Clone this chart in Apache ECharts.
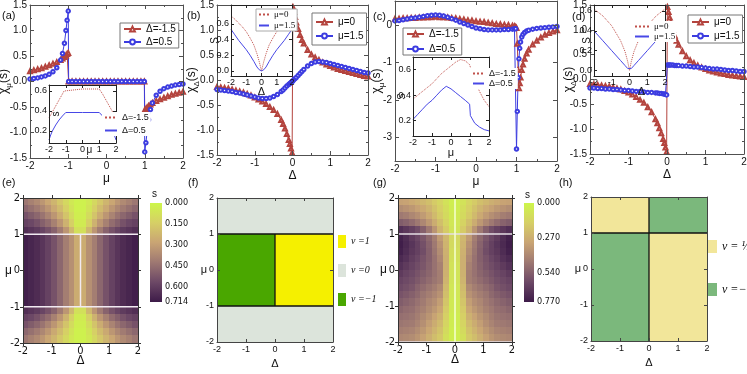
<!DOCTYPE html>
<html><head><meta charset="utf-8">
<script src="https://cdn.jsdelivr.net/npm/echarts@6/dist/echarts.min.js"></script>
<style>html,body{margin:0;padding:0;background:#fff}#c{width:747px;height:374px}</style>
</head><body><div id="c"></div><script>
// ---------------- DATA ----------------
// (a) chi_mu vs mu
const aMu = [-2,-1.9,-1.8,-1.7,-1.6,-1.5,-1.4,-1.3,-1.2,-1.15,-1.1,-1.06,-1.03,-1,
 -0.99,-0.9,-0.8,-0.7,-0.6,-0.5,-0.4,-0.3,-0.2,-0.1,0,0.1,0.2,0.3,0.4,0.5,0.6,0.7,0.8,0.9,0.99,
 1,1.03,1.06,1.1,1.15,1.2,1.3,1.4,1.5,1.6,1.7,1.8,1.9,2];
const aRed = [0.2,0.22,0.24,0.26,0.29,0.32,0.35,0.38,0.42,0.45,0.48,0.51,0.54,0.56,
 0,0,0,0,0,0,0,0,0,0,0,0,0,0,0,0,0,0,0,0,0,
 -0.56,-0.54,-0.51,-0.48,-0.45,-0.42,-0.38,-0.35,-0.32,-0.29,-0.26,-0.24,-0.22,-0.2];
const aBlue = [0.05,0.06,0.07,0.09,0.11,0.14,0.19,0.27,0.42,0.55,0.75,1.0,1.2,1.38,
 0,0,0,0,0,0,0,0,0,0,0,0,0,0,0,0,0,0,0,0,0,
 -1.38,-1.2,-1.0,-0.75,-0.55,-0.42,-0.27,-0.19,-0.14,-0.11,-0.09,-0.07,-0.06,-0.05];
// (a) inset S vs mu
const iaMu = [-2,-1.9,-1.8,-1.7,-1.6,-1.5,-1.4,-1.3,-1.2,-1.1,-1,0,1,1.1,1.2,1.3,1.4,1.5,1.6,1.7,1.8,1.9,2];
const iaRed = [0.33,0.36,0.39,0.42,0.45,0.48,0.51,0.54,0.57,0.6,0.62,0.62,0.62,0.6,0.57,0.54,0.51,0.48,0.45,0.42,0.39,0.36,0.33];
const iaBlue = [0.11,0.16,0.2,0.23,0.26,0.28,0.31,0.33,0.35,0.37,0.385,0.385,0.385,0.37,0.35,0.33,0.31,0.28,0.26,0.23,0.2,0.16,0.11];
// (b) chi_Delta vs Delta
const bDelta = [-2,-1.9,-1.8,-1.7,-1.6,-1.5,-1.4,-1.3,-1.2,-1.1,-1,-0.9,-0.8,-0.7,-0.6,-0.5,-0.4,-0.3,-0.25,-0.2,-0.15,-0.1,-0.07,-0.04,-0.01,
 0.01,0.04,0.07,0.1,0.15,0.2,0.25,0.3,0.4,0.5,0.6,0.7,0.8,0.9,1,1.1,1.2,1.3,1.4,1.5,1.6,1.7,1.8,1.9,2];
const bRed = [-0.14,-0.15,-0.16,-0.17,-0.19,-0.21,-0.23,-0.25,-0.28,-0.31,-0.35,-0.39,-0.43,-0.48,-0.54,-0.6,-0.68,-0.8,-0.88,-0.97,-1.08,-1.2,-1.28,-1.37,-1.46,
 1.46,1.36,1.26,1.15,1.02,0.9,0.8,0.73,0.6,0.51,0.45,0.4,0.35,0.31,0.28,0.25,0.22,0.2,0.18,0.16,0.14,0.12,0.1,0.08,0.07];
const bBlue = [-0.19,-0.2,-0.21,-0.22,-0.23,-0.25,-0.26,-0.28,-0.3,-0.32,-0.34,-0.36,-0.37,-0.37,-0.36,-0.33,-0.29,-0.23,-0.2,-0.16,-0.12,-0.09,-0.07,-0.05,-0.03,
 -0.02,0.01,0.03,0.05,0.09,0.13,0.17,0.21,0.28,0.33,0.36,0.37,0.36,0.35,0.33,0.31,0.29,0.27,0.25,0.23,0.21,0.19,0.17,0.15,0.14];
// (b) inset S vs Delta
const ibDelta = [-2,-1.75,-1.5,-1.25,-1,-0.75,-0.5,-0.3,-0.15,0,0.15,0.3,0.5,0.75,1,1.25,1.5,1.75,2];
const ibRed = [0.7,0.66,0.61,0.56,0.5,0.42,0.33,0.22,0.12,0,0.12,0.22,0.33,0.42,0.5,0.56,0.61,0.66,0.7];
const ibBlue = [0.53,0.46,0.39,0.33,0.27,0.2,0.12,0.05,0.015,0,0.015,0.05,0.12,0.2,0.27,0.33,0.39,0.46,0.53];
// (c) chi_mu vs mu
const cMu = [-2,-1.9,-1.8,-1.7,-1.6,-1.5,-1.4,-1.3,-1.2,-1.1,-1,-0.9,-0.8,-0.7,-0.6,-0.5,-0.4,-0.3,-0.2,-0.1,0,0.1,0.2,0.3,0.4,0.5,0.6,0.7,0.8,0.9,
 0.95,0.98,1,1.02,1.04,1.06,1.08,1.1,1.13,1.16,1.2,1.25,1.3,1.4,1.5,1.6,1.7,1.8,1.9,2];
const cRed = [0.17,0.17,0.18,0.18,0.19,0.19,0.2,0.2,0.21,0.21,0.22,0.21,0.21,0.2,0.19,0.18,0.16,0.15,0.13,0.12,0.1,0.09,0.08,0.06,0.05,0.03,0.02,0.01,0,-0.02,
 -0.03,-0.05,-0.08,-0.5,-1.2,-1.68,-1.55,-1.4,-1.2,-1.05,-0.9,-0.76,-0.66,-0.52,-0.42,-0.33,-0.26,-0.21,-0.17,-0.14];
const cBlue = [0.11,0.12,0.14,0.16,0.18,0.19,0.21,0.23,0.25,0.26,0.27,0.26,0.24,0.21,0.17,0.13,0.08,0.04,0,-0.04,-0.08,-0.1,-0.12,-0.13,-0.13,-0.13,-0.13,-0.12,-0.12,-0.11,
 -0.1,-0.1,-3.3,-2.3,-1.4,-0.9,-0.62,-0.45,-0.32,-0.25,-0.2,-0.16,-0.14,-0.11,-0.09,-0.08,-0.07,-0.06,-0.05,-0.04];
// (c) inset S vs mu
const icMu = [-2,-1.75,-1.5,-1.25,-1,-0.75,-0.5,-0.25,0,0.25,0.5,0.75,0.98,1.02,1.25,1.5,1.75,2];
const icRed = [0.37,0.4,0.43,0.46,0.49,0.53,0.57,0.6,0.63,0.66,0.68,0.67,0.64,0.62,0.52,0.43,0.36,0.31];
const icBlue = [0.21,0.25,0.29,0.33,0.36,0.4,0.44,0.47,0.45,0.42,0.39,0.36,0.33,0.24,0.18,0.15,0.13,0.12];
// (d) chi_Delta vs Delta
const dDelta = [-2,-1.9,-1.8,-1.7,-1.6,-1.5,-1.4,-1.3,-1.2,-1.1,-1,-0.9,-0.8,-0.7,-0.6,-0.5,-0.4,-0.3,-0.25,-0.2,-0.15,-0.1,-0.07,-0.04,-0.01,
 0.01,0.04,0.07,0.1,0.15,0.2,0.25,0.3,0.4,0.5,0.6,0.7,0.8,0.9,1,1.1,1.2,1.3,1.4,1.5,1.6,1.7,1.8,1.9,2];
const dRed = [-0.09,-0.1,-0.11,-0.12,-0.13,-0.14,-0.16,-0.18,-0.2,-0.23,-0.26,-0.3,-0.35,-0.41,-0.47,-0.56,-0.66,-0.8,-0.88,-0.98,-1.08,-1.2,-1.28,-1.37,-1.46,
 1.46,1.36,1.25,1.15,1.0,0.88,0.78,0.7,0.57,0.47,0.39,0.33,0.28,0.24,0.21,0.18,0.16,0.14,0.12,0.11,0.09,0.08,0.07,0.06,0.05];
const dBlue = [-0.17,-0.17,-0.18,-0.18,-0.19,-0.19,-0.2,-0.2,-0.21,-0.22,-0.22,-0.23,-0.24,-0.24,-0.25,-0.26,-0.26,-0.27,-0.27,-0.28,-0.28,-0.29,-0.29,-0.3,-0.31,
 0.29,0.29,0.29,0.29,0.29,0.28,0.28,0.28,0.27,0.27,0.26,0.25,0.25,0.24,0.23,0.22,0.21,0.21,0.2,0.19,0.18,0.18,0.17,0.16,0.16];
// (d) inset S vs Delta
const idDelta = [-2,-1.5,-1,-0.5,-0.25,-0.1,0,0.1,0.25,0.5,1,1.5,2];
const idRed = [0.62,0.55,0.45,0.3,0.19,0.09,0,0.09,0.19,0.3,0.45,0.55,0.62];
const idBlue = [0.4,0.3,0.2,0.1,0.05,0.02,0,0.02,0.05,0.1,0.2,0.3,0.4];
// heat maps: cell centres
const hmDelta = [-1.9,-1.7,-1.5,-1.3,-1.1,-0.9,-0.7,-0.5,-0.3,-0.1,0.1,0.3,0.5,0.7,0.9,1.1,1.3,1.5,1.7,1.9];
const hmMu = [1.9,1.7,1.5,1.3,1.1,0.9,0.7,0.5,0.3,0.1,-0.1,-0.3,-0.5,-0.7,-0.9,-1.1,-1.3,-1.5,-1.7,-1.9];
// (e) S(Delta, mu), rows top (mu=1.9) to bottom (mu=-1.9)
const eRows = [
 [0.43,0.40,0.37,0.33,0.28,0.23,0.17,0.11,0.05,0.02,0.02,0.05,0.11,0.17,0.23,0.28,0.33,0.37,0.40,0.43],
 [0.48,0.45,0.42,0.38,0.33,0.27,0.21,0.14,0.07,0.02,0.02,0.07,0.14,0.21,0.27,0.33,0.38,0.42,0.45,0.48],
 [0.54,0.51,0.48,0.44,0.39,0.33,0.26,0.18,0.10,0.03,0.03,0.10,0.18,0.26,0.33,0.39,0.44,0.48,0.51,0.54],
 [0.59,0.57,0.54,0.50,0.46,0.40,0.33,0.24,0.14,0.04,0.04,0.14,0.24,0.33,0.40,0.46,0.50,0.54,0.57,0.59],
 [0.65,0.63,0.61,0.58,0.54,0.49,0.42,0.33,0.22,0.08,0.08,0.22,0.33,0.42,0.49,0.54,0.58,0.61,0.63,0.65],
 [0.70,0.68,0.66,0.63,0.59,0.54,0.48,0.41,0.35,0.26,0.26,0.35,0.41,0.48,0.54,0.59,0.63,0.66,0.68,0.70],
 [0.70,0.68,0.66,0.63,0.59,0.54,0.48,0.41,0.35,0.26,0.26,0.35,0.41,0.48,0.54,0.59,0.63,0.66,0.68,0.70],
 [0.70,0.68,0.66,0.63,0.59,0.54,0.48,0.41,0.35,0.26,0.26,0.35,0.41,0.48,0.54,0.59,0.63,0.66,0.68,0.70],
 [0.70,0.68,0.66,0.63,0.59,0.54,0.48,0.41,0.35,0.26,0.26,0.35,0.41,0.48,0.54,0.59,0.63,0.66,0.68,0.70],
 [0.70,0.68,0.66,0.63,0.59,0.54,0.48,0.41,0.35,0.26,0.26,0.35,0.41,0.48,0.54,0.59,0.63,0.66,0.68,0.70],
 [0.70,0.68,0.66,0.63,0.59,0.54,0.48,0.41,0.35,0.26,0.26,0.35,0.41,0.48,0.54,0.59,0.63,0.66,0.68,0.70],
 [0.70,0.68,0.66,0.63,0.59,0.54,0.48,0.41,0.35,0.26,0.26,0.35,0.41,0.48,0.54,0.59,0.63,0.66,0.68,0.70],
 [0.70,0.68,0.66,0.63,0.59,0.54,0.48,0.41,0.35,0.26,0.26,0.35,0.41,0.48,0.54,0.59,0.63,0.66,0.68,0.70],
 [0.70,0.68,0.66,0.63,0.59,0.54,0.48,0.41,0.35,0.26,0.26,0.35,0.41,0.48,0.54,0.59,0.63,0.66,0.68,0.70],
 [0.70,0.68,0.66,0.63,0.59,0.54,0.48,0.41,0.35,0.26,0.26,0.35,0.41,0.48,0.54,0.59,0.63,0.66,0.68,0.70],
 [0.65,0.63,0.61,0.58,0.54,0.49,0.42,0.33,0.22,0.08,0.08,0.22,0.33,0.42,0.49,0.54,0.58,0.61,0.63,0.65],
 [0.59,0.57,0.54,0.50,0.46,0.40,0.33,0.24,0.14,0.04,0.04,0.14,0.24,0.33,0.40,0.46,0.50,0.54,0.57,0.59],
 [0.54,0.51,0.48,0.44,0.39,0.33,0.26,0.18,0.10,0.03,0.03,0.10,0.18,0.26,0.33,0.39,0.44,0.48,0.51,0.54],
 [0.48,0.45,0.42,0.38,0.33,0.27,0.21,0.14,0.07,0.02,0.02,0.07,0.14,0.21,0.27,0.33,0.38,0.42,0.45,0.48],
 [0.43,0.40,0.37,0.33,0.28,0.23,0.17,0.11,0.05,0.02,0.02,0.05,0.11,0.17,0.23,0.28,0.33,0.37,0.40,0.43]
];
// (g) S(Delta, mu), rows top (mu=1.9) to bottom (mu=-1.9)
const gRows = [
 [0.32,0.31,0.29,0.27,0.24,0.21,0.17,0.13,0.08,0.03,0.03,0.08,0.13,0.17,0.21,0.24,0.27,0.29,0.31,0.32],
 [0.39,0.37,0.35,0.32,0.29,0.25,0.20,0.15,0.10,0.04,0.04,0.10,0.15,0.20,0.25,0.29,0.32,0.35,0.37,0.39],
 [0.46,0.44,0.41,0.38,0.34,0.29,0.23,0.17,0.11,0.05,0.05,0.11,0.17,0.23,0.29,0.34,0.38,0.41,0.44,0.46],
 [0.55,0.53,0.50,0.46,0.41,0.35,0.28,0.21,0.14,0.06,0.06,0.14,0.21,0.28,0.35,0.41,0.46,0.50,0.53,0.55],
 [0.70,0.67,0.64,0.60,0.54,0.46,0.36,0.25,0.17,0.07,0.07,0.17,0.25,0.36,0.46,0.54,0.60,0.64,0.67,0.70],
 [0.75,0.71,0.66,0.62,0.57,0.51,0.44,0.34,0.24,0.12,0.12,0.24,0.34,0.44,0.51,0.57,0.62,0.66,0.71,0.75],
 [0.76,0.72,0.68,0.64,0.59,0.53,0.46,0.37,0.25,0.11,0.11,0.25,0.37,0.46,0.53,0.59,0.64,0.68,0.72,0.76],
 [0.75,0.71,0.67,0.64,0.60,0.54,0.47,0.39,0.26,0.10,0.10,0.26,0.39,0.47,0.54,0.60,0.64,0.67,0.71,0.75],
 [0.72,0.69,0.65,0.62,0.58,0.54,0.48,0.41,0.27,0.09,0.09,0.27,0.41,0.48,0.54,0.58,0.62,0.65,0.69,0.72],
 [0.69,0.66,0.63,0.60,0.57,0.53,0.48,0.43,0.27,0.08,0.08,0.27,0.43,0.48,0.53,0.57,0.60,0.63,0.66,0.69],
 [0.66,0.63,0.61,0.58,0.55,0.52,0.48,0.44,0.26,0.07,0.07,0.26,0.44,0.48,0.52,0.55,0.58,0.61,0.63,0.66],
 [0.63,0.61,0.59,0.56,0.53,0.50,0.47,0.44,0.25,0.07,0.07,0.25,0.44,0.47,0.50,0.53,0.56,0.59,0.61,0.63],
 [0.61,0.59,0.57,0.53,0.50,0.47,0.44,0.40,0.23,0.06,0.06,0.23,0.40,0.44,0.47,0.50,0.53,0.57,0.59,0.61],
 [0.58,0.56,0.54,0.51,0.47,0.44,0.41,0.37,0.21,0.06,0.06,0.21,0.37,0.41,0.44,0.47,0.51,0.54,0.56,0.58],
 [0.55,0.53,0.51,0.48,0.45,0.41,0.38,0.33,0.19,0.05,0.05,0.19,0.33,0.38,0.41,0.45,0.48,0.51,0.53,0.55],
 [0.52,0.50,0.49,0.46,0.43,0.39,0.35,0.30,0.17,0.05,0.05,0.17,0.30,0.35,0.39,0.43,0.46,0.49,0.50,0.52],
 [0.49,0.48,0.47,0.44,0.40,0.36,0.31,0.26,0.15,0.04,0.04,0.15,0.26,0.31,0.36,0.40,0.44,0.47,0.48,0.49],
 [0.47,0.46,0.45,0.42,0.38,0.33,0.28,0.23,0.13,0.04,0.04,0.13,0.23,0.28,0.33,0.38,0.42,0.45,0.46,0.47],
 [0.44,0.43,0.42,0.39,0.35,0.30,0.25,0.20,0.11,0.03,0.03,0.11,0.20,0.25,0.30,0.35,0.39,0.42,0.43,0.44],
 [0.41,0.40,0.39,0.36,0.32,0.27,0.22,0.18,0.09,0.03,0.03,0.09,0.18,0.22,0.27,0.32,0.36,0.39,0.40,0.41]
];
const eMax = 0.714, gMax = 0.77;
const eBarTicks = [0, 0.15, 0.3, 0.45, 0.6, 0.714];
const gBarTicks = [0, 0.27, 0.54, 0.77];
// boundary lines [x0,y0,x1,y1]
const eLines = [[-2,1,2,1],[-2,-1,2,-1],[0,-1,0,1]];
const gHLines = [[-2,1,2,1],[-2,-2,2,-2]];
const gVLines = [[0,-2,0,2]];
// (f) phase regions [Delta0, Delta1, mu0, mu1]
const fNuPlus = [[0,2,-1,1]];
const fNuZero = [[-2,2,1,2],[-2,2,-2,-1]];
const fNuMinus = [[-2,0,-1,1]];
const fLines = [[-2,1,2,1],[-2,-1,2,-1],[0,-1,0,1]];
// (h) phase regions
const hHalf = [[-2,0,1,2],[0,2,-2,1]];
const hMinusHalf = [[0,2,1,2],[-2,0,-2,1]];
const hLines = [[-2,1,2,1],[0,-2,0,2]];
// tick values
const cTicksY = [-3,-2,-1,0];
const insTicksA = [0.2,0.4,0.6];
const insTicksB = [0,0.2,0.4,0.6];

// ---------------- STYLE / BUILD ----------------
const FONT = '"Liberation Sans", Arial, Helvetica, sans-serif';
const NARROW = '"Liberation Sans Narrow", "DejaVu Sans Condensed", "Liberation Sans", sans-serif';
const SERIF = '"Liberation Serif", "Times New Roman", serif';
const RED = '#b4443e', BLUE = '#3c3ce0', IRED = '#c0504a', IBLUE = '#4848e6';
const FRAME = '#505050';
const CMAP = ['#cdf64a','#d6cf66','#c9a474','#9e7872','#6c4866','#3d1b48'];
const ZW = '\u200b';

const G=[], X=[], Y=[], S=[], L=[], GR=[], VM=[];
function addGrid(r, extra){ G.push(Object.assign({left:r[0],top:r[1],width:r[2],height:r[3],outerBoundsMode:'none'}, extra||{})); return G.length-1; }
function mkAxis(gi, position, range, o){
  o = o || {};
  const col = o.lineColor || FRAME;
  const ax = {gridIndex:gi, type:'value', position, min:range[0], max:range[1],
    splitLine:{show:false},
    axisLine:{show:true, onZero:false, lineStyle:{color:col, width:1}},
    axisTick:{show:o.tick!==false, inside:o.inside!==false, length:o.tickLen||4, lineStyle:{color:col}},
    axisLabel:{show:!!o.labels, fontSize:o.fontSize||10, color:'#111', fontFamily:o.font||FONT, margin:o.margin==null?3:o.margin},
    nameMoveOverlap:false,
    z:o.z||3};
  if (o.interval!=null) ax.interval = o.interval;
  if (o.minor) ax.minorTick = {show:true, splitNumber:2, length:2, lineStyle:{color:col}};
  if (o.ticks){ ax.axisTick.customValues = o.ticks; ax.axisLabel.customValues = o.ticks; }
  if (o.fmt) ax.axisLabel.formatter = o.fmt;
  if (o.name){ ax.name=o.name; ax.nameLocation='middle'; ax.nameGap=o.nameGap;
    ax.nameTextStyle=Object.assign({fontSize:12, color:'#111', fontFamily:FONT}, o.nameStyle||{});
    if (o.nameRotate!=null) ax.nameRotate=o.nameRotate; }
  return ax;
}
function panel(r, xr, yr, xo, yo, gextra){
  const gi = addGrid(r, gextra);
  const xi = X.length;
  X.push(mkAxis(gi,'bottom',xr,Object.assign({labels:true},xo)));
  X.push(mkAxis(gi,'top',xr,Object.assign({},xo,{labels:false,name:null})));
  const yi = Y.length;
  Y.push(mkAxis(gi,'left',yr,Object.assign({labels:true},yo)));
  Y.push(mkAxis(gi,'right',yr,Object.assign({},yo,{labels:false,name:null})));
  return {gi, xi, yi};
}
function line(p, name, xs, ys, o){
  S.push({type:'line', name, xAxisIndex:p.xi, yAxisIndex:p.yi, data:xs.map((x,i)=>[x,ys[i]]),
    symbol:o.symbol||'none', showSymbol:!!o.symbol, symbolSize:o.size||3.5,
    lineStyle:{color:o.color, width:1, type:o.dash||'solid'}, itemStyle:{color:o.color, borderWidth:0.8},
    z:o.z||2, animation:false, clip:true});
}
function legend(names, left, top, o){
  L.push(Object.assign({data:names, left, top, orient:'vertical', itemWidth:17, itemHeight:6, itemGap:2,
    padding:[1,3,1,3], textStyle:{fontSize:10, fontFamily:FONT, color:'#111'},
    backgroundColor:'#fff', borderColor:'#777', borderWidth:1, borderRadius:0, selectedMode:false,
    itemStyle:{borderWidth:1},
    formatter:n=>n.replace(/\u200b/g,''), z:12}, o||{}));
}
function segRender(width){ return function(params, api){
  const a=api.coord([api.value(0),api.value(1)]), b=api.coord([api.value(2),api.value(3)]);
  return {type:'line', shape:{x1:a[0],y1:a[1],x2:b[0],y2:b[1]}, style:{stroke:api.visual('color'), lineWidth:width}};
};}
function boxRender(params, api){
  const a=api.coord([api.value(0),api.value(3)]), b=api.coord([api.value(1),api.value(2)]);
  return {type:'rect', shape:{x:a[0],y:a[1],width:b[0]-a[0],height:b[1]-a[1]}, style:{fill:api.visual('color')}};
}
const CELL_HALF = 0.1;
function cellRender(params, api){
  const a=api.coord([api.value(0)-CELL_HALF, api.value(1)+CELL_HALF]);
  const b=api.coord([api.value(0)+CELL_HALF, api.value(1)-CELL_HALF]);
  return {type:'rect', shape:{x:Math.floor(a[0]),y:Math.floor(a[1]),width:Math.ceil(b[0]-a[0])+1,height:Math.ceil(b[1]-a[1])+1}, style:{fill:api.visual('color')}};
}
function segs(p, data, color, width, z){
  S.push({type:'custom', xAxisIndex:p.xi, yAxisIndex:p.yi, data, renderItem:segRender(width), encode:{x:[0,2],y:[1,3]}, itemStyle:{color}, z:z||5, clip:false, silent:true});
}
function boxes(p, name, data, color){
  S.push({type:'custom', name, xAxisIndex:p.xi, yAxisIndex:p.yi, data, renderItem:boxRender, encode:{x:[0,1],y:[2,3]}, itemStyle:{color}, z:2, clip:true, silent:true});
}
function heat(p, rows, max){
  const data=[];
  rows.forEach((row,r)=>row.forEach((v,c)=>data.push([hmDelta[c], hmMu[r], v])));
  S.push({type:'custom', xAxisIndex:p.xi, yAxisIndex:p.yi, data, renderItem:cellRender, encode:{x:0,y:1}, z:2, clip:true, silent:true});
  VM.push({type:'continuous', show:false, min:0, max, dimension:2, seriesIndex:S.length-1, inRange:{color:CMAP}});
}
function colorbar(r, max, tk){
  const gi = addGrid(r);
  const xi = X.length; X.push({gridIndex:gi, type:'value', min:0, max:1, show:false});
  const yi = Y.length; Y.push({gridIndex:gi, type:'value', position:'right', inverse:true, min:0, max,
    splitLine:{show:false}, axisLine:{show:false}, axisTick:{show:false},
    axisLabel:{customValues:tk, formatter:v=>v.toFixed(3), fontSize:9, fontFamily:NARROW, color:'#111', margin:3}});
  S.push({type:'custom', xAxisIndex:xi, yAxisIndex:yi, data:[[0,0,1,max]], encode:{x:[0,2],y:[1,3]}, silent:true,
    renderItem:(params,api)=>{const a=api.coord([api.value(0),api.value(1)]), b=api.coord([api.value(2),api.value(3)]);
      return {type:'rect', shape:{x:a[0],y:a[1],width:b[0]-a[0],height:b[1]-a[1]},
        style:{fill:new echarts.graphic.LinearGradient(0,0,0,1, CMAP.map((c,i)=>({offset:i/(CMAP.length-1), color:c})))}};}});
}
const f1 = v=>v.toFixed(1);
const chiRich = {b:{fontSize:12, fontFamily:FONT, color:'#111', padding:[0,0,3,0]}, s:{fontSize:8, fontFamily:FONT, color:'#111', verticalAlign:'bottom'}};
const insetLegend = {borderWidth:0, padding:[1,2], itemStyle:{opacity:0}, textStyle:{fontSize:9, fontFamily:FONT, color:'#111'}};

// ---- (a)
const pa = panel([30,5,153,153], [-2,2], [-1.5,1.5],
  {interval:1, minor:true, name:'μ', nameGap:15},
  {interval:0.5, minor:true, fmt:f1, name:'{b|χ}{s|μ}{b|(s)}', nameGap:17, nameStyle:{rich:chiRich}});
line(pa, 'Δ=-1.5', aMu, aRed, {color:RED, symbol:'emptyTriangle', size:4});
line(pa, 'Δ=0.5', aMu, aBlue, {color:BLUE, symbol:'emptyCircle'});
legend(['Δ=-1.5','Δ=0.5'], 120, 23, {itemGap:3});
// (a) inset
const ia = panel([49,85,67,58], [-2,2], [0.08,0.66],
  {interval:1, fontSize:9, tickLen:3, lineColor:'#222', margin:2, z:7, name:'μ', nameGap:2, nameStyle:{fontSize:10, padding:[0,0,0,14]}},
  {ticks:insTicksA, fmt:f1, fontSize:9, tickLen:3, lineColor:'#222', margin:2, z:7, name:'s', nameGap:-12, nameStyle:{fontSize:10}},
  {show:true, backgroundColor:'#fff', borderWidth:0, z:5});
line(ia, 'Δ=-1.5'+ZW+ZW, iaMu, iaRed, {color:IRED, dash:'dotted', z:6});
line(ia, 'Δ=0.5'+ZW+ZW, iaMu, iaBlue, {color:IBLUE, z:6});
legend(['Δ=-1.5'+ZW+ZW,'Δ=0.5'+ZW+ZW], 102, 112, Object.assign({}, insetLegend, {itemWidth:12, itemGap:4}));

// ---- (b)
const pb = panel([217,5,151,150], [-2,2], [-1.5,1.5],
  {interval:1, minor:true, name:'Δ', nameGap:15},
  {interval:0.5, minor:true, fmt:f1, name:'{b|χ}{s|Δ}{b|(s)}', nameGap:16, nameStyle:{rich:chiRich}});
line(pb, 'μ=0', bDelta, bRed, {color:RED, symbol:'emptyTriangle', size:4});
line(pb, 'μ=1.5', bDelta, bBlue, {color:BLUE, symbol:'emptyCircle'});
legend(['μ=0','μ=1.5'], 312, 13, {padding:[4,3], itemGap:4});
const ib = panel([231,5,61,71], [-2,2], [-0.065,0.84],
  {interval:1, fontSize:9, tickLen:3, lineColor:'#222', margin:2, z:7, name:'Δ', nameGap:10, nameStyle:{fontSize:11}},
  {ticks:insTicksB, fmt:f1, fontSize:9, tickLen:3, lineColor:'#222', margin:2, z:7, name:'S', nameGap:11, nameStyle:{fontSize:10}},
  {show:true, backgroundColor:'#fff', borderWidth:0, z:5});
line(ib, 'μ=0'+ZW+ZW, ibDelta, ibRed, {color:IRED, dash:'dotted', z:6});
line(ib, 'μ=1.5'+ZW+ZW, ibDelta, ibBlue, {color:IBLUE, z:6});
legend(['μ=0'+ZW+ZW,'μ=1.5'+ZW+ZW], 256, 9, Object.assign({}, insetLegend, {itemWidth:10, itemGap:2, borderWidth:1, borderColor:'#aaa', textStyle:{fontSize:9, fontFamily:SERIF, color:'#111'}}));

// ---- (c)
const pc = panel([395,1,162,160], [-2,2], [-3.62,0.64],
  {interval:1, minor:true, name:'μ', nameGap:15},
  {ticks:cTicksY, name:'{b|χ}{s|μ}{b|(s)}', nameGap:9, nameStyle:{rich:chiRich}});
line(pc, 'Δ=-1.5'+ZW, cMu, cRed, {color:RED, symbol:'emptyTriangle', size:4});
line(pc, 'Δ=0.5'+ZW, cMu, cBlue, {color:BLUE, symbol:'emptyCircle'});
legend(['Δ=-1.5'+ZW,'Δ=0.5'+ZW], 403, 28, {itemGap:5, padding:[1,3]});
const ic = panel([413,57,76,79], [-2,2], [0.08,0.70],
  {interval:1, fontSize:9, tickLen:3, lineColor:'#222', margin:2, z:7, name:'μ', nameGap:11, nameStyle:{fontSize:11}},
  {ticks:insTicksA, fmt:f1, fontSize:9, tickLen:3, lineColor:'#222', margin:2, z:7, name:'S', nameGap:6, nameStyle:{fontSize:10}},
  {show:true, backgroundColor:'#fff', borderWidth:0, z:5});
line(ic, 'Δ=-1.5'+ZW+ZW+ZW, icMu, icRed, {color:IRED, dash:'dotted', z:6});
line(ic, 'Δ=0.5'+ZW+ZW+ZW, icMu, icBlue, {color:IBLUE, z:6});
legend(['Δ=-1.5'+ZW+ZW+ZW,'Δ=0.5'+ZW+ZW+ZW], 470, 68, Object.assign({}, insetLegend, {itemWidth:11, itemGap:1}));

// ---- (d)
const pd = panel([590,5,154,149], [-2,2], [-1.5,1.5],
  {interval:1, minor:true, name:'Δ', nameGap:15},
  {interval:0.5, minor:true, fmt:f1, name:'{b|χ}{s|Δ}{b|(s)}', nameGap:12, nameStyle:{rich:chiRich}});
line(pd, 'μ=0'+ZW, dDelta, dRed, {color:RED, symbol:'emptyTriangle', size:4});
line(pd, 'μ=1.5'+ZW, dDelta, dBlue, {color:BLUE, symbol:'emptyCircle'});
legend(['μ=0'+ZW,'μ=1.5'+ZW], 688, 15, {itemGap:4, padding:[2,3]});
const idp = panel([594,5,71,71], [-2,2], [-0.055,0.66],
  {interval:1, fontSize:9, tickLen:3, lineColor:'#222', margin:2, z:7, name:'Δ', nameGap:10, nameStyle:{fontSize:11, padding:[0,0,0,24]}},
  {ticks:insTicksB, fmt:f1, fontSize:9, tickLen:3, lineColor:'#222', margin:2, z:7, name:'S', nameGap:2, nameStyle:{fontSize:10}},
  {show:true, backgroundColor:'#fff', borderWidth:0, z:5});
line(idp, 'μ=0'+ZW+ZW+ZW, idDelta, idRed, {color:IRED, dash:'dotted', z:6});
line(idp, 'μ=1.5'+ZW+ZW+ZW, idDelta, idBlue, {color:IBLUE, z:6});
legend(['μ=0'+ZW+ZW+ZW,'μ=1.5'+ZW+ZW+ZW], 633, 21, Object.assign({}, insetLegend, {itemWidth:14, itemGap:1, padding:[1,1], textStyle:{fontSize:9, fontFamily:SERIF, color:'#111'}}));

// ---- (e)
const hx = {interval:1, inside:false, tickLen:3, fontSize:11, font:NARROW, margin:3, z:10, lineColor:'#333'};
const pe = panel([23,198,115,145], [-2,2], [-2,2],
  Object.assign({}, hx, {name:'Δ', nameGap:12, nameStyle:{fontSize:12}}),
  Object.assign({}, hx, {name:'μ', nameGap:11, nameRotate:0, nameStyle:{fontSize:12}}));
heat(pe, eRows, eMax);
segs(pe, eLines, '#f1eaf1', 1.5);
colorbar([150,203,12,99], eMax, eBarTicks);

// ---- (f)
const fx = {interval:1, tickLen:3, fontSize:9, margin:3, z:10, lineColor:'#444'};
const pf = panel([217,198,116,144], [-2,2], [-2,2],
  Object.assign({}, fx, {name:'Δ', nameGap:16, nameStyle:{fontSize:11}}),
  Object.assign({}, fx, {name:'μ', nameGap:10, nameRotate:0, nameStyle:{fontSize:11}}));
boxes(pf, 'ν =1', fNuPlus, '#f5f000');
boxes(pf, 'ν =0', fNuZero, '#dce4db');
boxes(pf, 'ν =−1', fNuMinus, '#4aa700');
segs(pf, fLines, '#111', 1.3);
legend(['ν =1','ν =0','ν =−1'], 338, 235, {icon:'rect', itemWidth:8, itemHeight:13, itemGap:16, padding:0, borderWidth:0, backgroundColor:'transparent',
  itemStyle:{borderWidth:0}, textStyle:{fontSize:10, fontFamily:SERIF, fontStyle:'italic', color:'#111'}});

// ---- (g)
const pg = panel([398,198,114,144], [-2,2], [-2,2],
  Object.assign({}, hx, {name:'Δ', nameGap:12, nameStyle:{fontSize:12}}),
  Object.assign({}, hx, {name:'μ', nameGap:11, nameRotate:0, nameStyle:{fontSize:12}}));
heat(pg, gRows, gMax);
segs(pg, gHLines, '#e4dee4', 1.5);
segs(pg, gVLines, '#f6ffd2', 1.5);
colorbar([524,203,10,99], gMax, gBarTicks);

// ---- (h)
const ph = panel([591,197,116,144], [-2,2], [-2,2],
  Object.assign({}, fx, {name:'Δ', nameGap:16, nameStyle:{fontSize:11}}),
  Object.assign({}, fx, {name:'μ', nameGap:10, nameRotate:0, nameStyle:{fontSize:11}}));
boxes(ph, 'ν = ½', hHalf, '#f2e69a');
boxes(ph, 'ν =−½', hMinusHalf, '#7bb87c');
segs(ph, hLines, '#111', 1.3);
legend(['ν = ½','ν =−½'], 708, 240, {icon:'rect', itemWidth:9, itemHeight:13, itemGap:30, padding:0, borderWidth:0, backgroundColor:'transparent',
  itemStyle:{borderWidth:0}, textStyle:{fontSize:12, fontFamily:SERIF, fontStyle:'italic', color:'#111'}});

// panel letters and colorbar titles
const letters = [['(a)',2,10],['(b)',187,10],['(c)',373,11],['(d)',572,11],['(e)',2,177],['(f)',188,177],['(g)',373,177],['(h)',559,177]];
letters.forEach(t=>GR.push({type:'text', left:t[1], top:t[2], z:20, style:{text:t[0], fontSize:11, fontFamily:FONT, fill:'#111'}}));
GR.push({type:'text', left:152, top:189, z:20, style:{text:'s', fontSize:10, fontFamily:FONT, fill:'#111'}});
GR.push({type:'text', left:525, top:190, z:20, style:{text:'s', fontSize:10, fontFamily:FONT, fill:'#111'}});

const chart = echarts.init(document.getElementById('c'), null, {renderer:'canvas'});
chart.setOption({animation:false, backgroundColor:'#fff', grid:G, xAxis:X, yAxis:Y, series:S, legend:L, graphic:GR, visualMap:VM});
</script></body></html>
